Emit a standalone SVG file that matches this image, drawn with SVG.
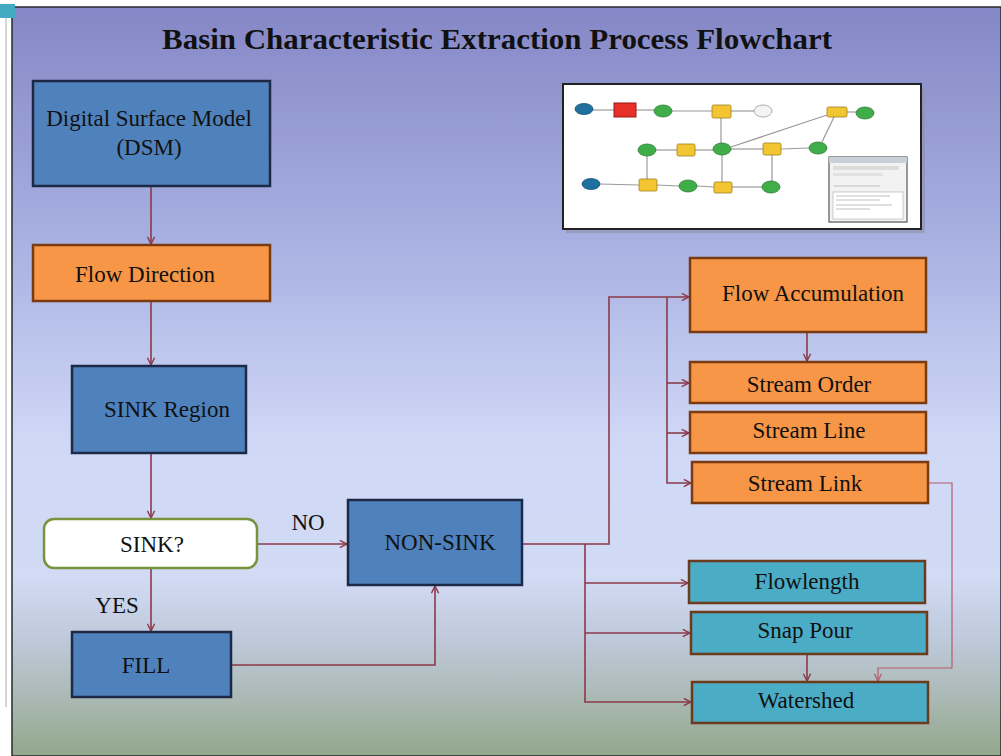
<svg xmlns="http://www.w3.org/2000/svg" width="1001" height="756" viewBox="0 0 1001 756">
<defs>
<linearGradient id="bg" x1="0" y1="0" x2="0" y2="1">
<stop offset="0" stop-color="#8587c6"/>
<stop offset="0.3" stop-color="#a6afe0"/>
<stop offset="0.58" stop-color="#cfd8f6"/>
<stop offset="0.76" stop-color="#d2dbf4"/>
<stop offset="0.84" stop-color="#bfcadc"/>
<stop offset="0.92" stop-color="#abbab6"/>
<stop offset="1" stop-color="#93a78c"/>
</linearGradient>
<marker id="ah" viewBox="0 0 10 10" refX="9" refY="5" markerWidth="9" markerHeight="9" markerUnits="userSpaceOnUse" orient="auto">
<path d="M1,1 L9,5 L1,9" fill="none" stroke="#8b3a4a" stroke-width="1.6"/>
</marker>
<marker id="ah2" viewBox="0 0 10 10" refX="9" refY="5" markerWidth="9" markerHeight="9" markerUnits="userSpaceOnUse" orient="auto">
<path d="M1,1 L9,5 L1,9" fill="none" stroke="#b85a6a" stroke-width="1.4"/>
</marker>
<style>
.t{font-family:"Liberation Serif","Times New Roman",serif;font-size:23px;fill:#111;text-anchor:middle}
.blue{fill:#4f81bd;stroke:#1c2a48;stroke-width:2.5}
.orange{fill:#f79646;stroke:#7a3a12;stroke-width:2.5}
.teal{fill:#4bacc6;stroke:#6b3b1b;stroke-width:2.5}
.c{fill:none;stroke:#8b3a4a;stroke-width:1.6}
.tl{stroke:#9a9a9a;stroke-width:1.2;fill:none}
.ge{fill:#3fae49;stroke:#2a7a30;stroke-width:0.8}
.ye{fill:#f3c532;stroke:#a08020;stroke-width:0.8}
.be{fill:#1f6f9f;stroke:#154f73;stroke-width:0.8}
</style>
</defs>
<rect x="0" y="0" width="1001" height="756" fill="#ffffff"/>
<line x1="6" y1="18" x2="6" y2="707" stroke="#c8c8c8" stroke-width="1.5"/>
<rect x="12" y="7" width="989" height="749" fill="url(#bg)" stroke="#2a2a2a" stroke-width="1.5"/>
<rect x="0" y="4" width="15" height="14" fill="#44aac4"/>
<text x="497" y="49" style="font-family:'Liberation Serif','Times New Roman',serif;font-size:29px;font-weight:bold;fill:#111" text-anchor="middle" textLength="670" lengthAdjust="spacingAndGlyphs">Basin Characteristic Extraction Process Flowchart</text>

<g id="thumbnail">
<rect x="566" y="88" width="359" height="145" fill="#8f8fa8" opacity="0.6"/>
<rect x="563" y="84" width="358" height="145" fill="#ffffff" stroke="#222" stroke-width="2"/>
<g class="tl">
<line x1="593" y1="110" x2="614" y2="110"/>
<line x1="636" y1="110" x2="654" y2="110"/>
<line x1="672" y1="111" x2="712" y2="111"/>
<line x1="731" y1="111" x2="754" y2="111"/>
<line x1="721" y1="118" x2="721" y2="143"/>
<line x1="731" y1="147" x2="827" y2="115"/>
<line x1="847" y1="112" x2="856" y2="112"/>
<line x1="822" y1="142" x2="834" y2="117"/>
<line x1="656" y1="150" x2="677" y2="150"/>
<line x1="695" y1="150" x2="713" y2="150"/>
<line x1="731" y1="149" x2="763" y2="149"/>
<line x1="781" y1="149" x2="809" y2="148"/>
<line x1="647" y1="156" x2="647" y2="179"/>
<line x1="600" y1="184" x2="639" y2="185"/>
<line x1="657" y1="185" x2="679" y2="186"/>
<line x1="697" y1="186" x2="714" y2="187"/>
<line x1="722" y1="155" x2="722" y2="182"/>
<line x1="732" y1="187" x2="762" y2="187"/>
<line x1="772" y1="181" x2="772" y2="155"/>
</g>
<ellipse class="be" cx="584" cy="109" rx="9" ry="5.5"/>
<rect x="614" y="103" width="22" height="14" fill="#e8302a" stroke="#9a1a14" stroke-width="1"/>
<ellipse class="ge" cx="663" cy="111" rx="9" ry="6"/>
<rect class="ye" x="712" y="105" width="19" height="13" rx="1.5"/>
<ellipse cx="763" cy="111" rx="9" ry="6" fill="#f4f4f4" stroke="#999" stroke-width="0.8"/>
<rect class="ye" x="827" y="107" width="20" height="10" rx="1.5"/>
<ellipse class="ge" cx="865" cy="113" rx="9" ry="6"/>
<ellipse class="ge" cx="647" cy="150" rx="9" ry="6"/>
<rect class="ye" x="677" y="144" width="18" height="12" rx="1.5"/>
<ellipse class="ge" cx="722" cy="149" rx="9" ry="6"/>
<rect class="ye" x="763" y="143" width="18" height="12" rx="1.5"/>
<ellipse class="ge" cx="818" cy="148" rx="9" ry="6"/>
<ellipse class="be" cx="591" cy="184" rx="9" ry="5.5"/>
<rect class="ye" x="639" y="179" width="18" height="12" rx="1.5"/>
<ellipse class="ge" cx="688" cy="186" rx="9" ry="6"/>
<rect class="ye" x="714" y="182" width="18" height="11" rx="1.5"/>
<ellipse class="ge" cx="771" cy="187" rx="9" ry="6"/>
<rect x="829" y="157" width="78" height="65" fill="#f2f2f2" stroke="#555" stroke-width="1.2"/>
<rect x="829" y="157" width="78" height="6" fill="#c9cfd8"/>
<rect x="833" y="166" width="66" height="4" fill="#dddddd"/>
<rect x="833" y="173" width="50" height="3" fill="#e2e2e2"/>
<rect x="833" y="192" width="70" height="27" fill="#ffffff" stroke="#aaa" stroke-width="0.6"/>
<g stroke="#b0b0b0" stroke-width="0.8">
<line x1="836" y1="196" x2="890" y2="196"/>
<line x1="836" y1="200" x2="880" y2="200"/>
<line x1="836" y1="205" x2="892" y2="205"/>
<line x1="836" y1="209" x2="870" y2="209"/>
<line x1="834" y1="186" x2="880" y2="186"/>
</g>
</g>

<g id="connectors">
<line class="c" x1="151" y1="186" x2="151" y2="244" marker-end="url(#ah)"/>
<line class="c" x1="151" y1="301" x2="151" y2="365" marker-end="url(#ah)"/>
<line class="c" x1="151" y1="453" x2="151" y2="518" marker-end="url(#ah)"/>
<line class="c" x1="151" y1="568" x2="151" y2="631" marker-end="url(#ah)"/>
<line class="c" x1="257" y1="544" x2="347" y2="544" marker-end="url(#ah)"/>
<polyline class="c" points="231,665 435,665 435,586" marker-end="url(#ah)"/>
<polyline class="c" points="522,544 609,544 609,297 689,297" marker-end="url(#ah)"/>
<polyline class="c" points="667,297 667,483 691,483" marker-end="url(#ah)"/>
<line class="c" x1="667" y1="383" x2="689" y2="383" marker-end="url(#ah)"/>
<line class="c" x1="667" y1="433" x2="689" y2="433" marker-end="url(#ah)"/>
<polyline class="c" points="585,544 585,702 691,702" marker-end="url(#ah)"/>
<line class="c" x1="585" y1="583" x2="688" y2="583" marker-end="url(#ah)"/>
<line class="c" x1="585" y1="633" x2="690" y2="633" marker-end="url(#ah)"/>
<line class="c" x1="807" y1="332" x2="807" y2="361" marker-end="url(#ah)"/>
<line class="c" x1="807" y1="654" x2="807" y2="681" marker-end="url(#ah)"/>
<polyline points="928,483 952,483 952,668 878,668 878,681" fill="none" stroke="#b85a6a" stroke-width="1.2" marker-end="url(#ah2)"/>
<text class="t" x="308" y="530">NO</text>
<text class="t" x="117" y="613">YES</text>
</g>

<g id="dsm">
<rect class="blue" x="33" y="81" width="237" height="105"/>
<text class="t" x="149" y="126">Digital Surface Model</text>
<text class="t" x="149" y="155">(DSM)</text>
</g>
<g id="flow-direction">
<rect class="orange" x="33" y="245" width="237" height="56"/>
<text class="t" x="145" y="282">Flow Direction</text>
</g>
<g id="sink-region">
<rect class="blue" x="72" y="366" width="174" height="87"/>
<text class="t" x="167" y="417">SINK Region</text>
</g>
<g id="sink-decision">
<rect x="44" y="519" width="213" height="49" rx="10" fill="#ffffff" stroke="#77933c" stroke-width="2.5"/>
<text class="t" x="152" y="552">SINK?</text>
</g>
<g id="fill">
<rect class="blue" x="72" y="632" width="159" height="65"/>
<text class="t" x="146" y="673">FILL</text>
</g>
<g id="non-sink">
<rect class="blue" x="348" y="500" width="174" height="85"/>
<text class="t" x="440" y="550">NON-SINK</text>
</g>
<g id="flow-accumulation">
<rect class="orange" x="690" y="258" width="236" height="74"/>
<text class="t" x="813" y="301">Flow Accumulation</text>
</g>
<g id="stream-order">
<rect class="orange" x="690" y="362" width="236" height="41"/>
<text class="t" x="809" y="392">Stream Order</text>
</g>
<g id="stream-line">
<rect class="orange" x="690" y="412" width="236" height="41"/>
<text class="t" x="809" y="438">Stream Line</text>
</g>
<g id="stream-link">
<rect class="orange" x="692" y="462" width="236" height="41"/>
<text class="t" x="805" y="491">Stream Link</text>
</g>
<g id="flowlength">
<rect class="teal" x="689" y="561" width="236" height="42"/>
<text class="t" x="807" y="589">Flowlength</text>
</g>
<g id="snap-pour">
<rect class="teal" x="691" y="612" width="236" height="42"/>
<text class="t" x="805" y="638">Snap Pour</text>
</g>
<g id="watershed">
<rect class="teal" x="692" y="682" width="236" height="41"/>
<text class="t" x="806" y="708">Watershed</text>
</g>
</svg>
